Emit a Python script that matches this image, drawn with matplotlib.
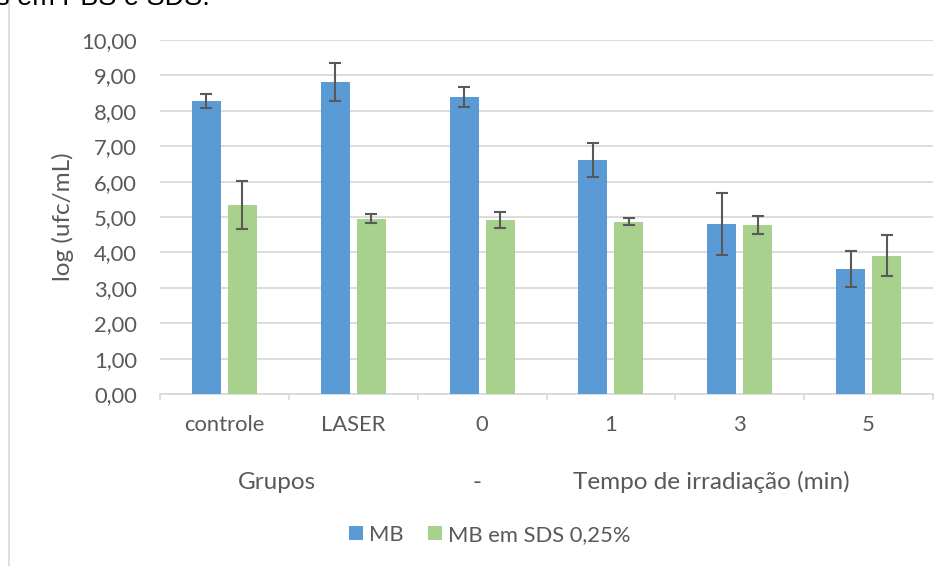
import matplotlib
matplotlib.use("Agg")
import matplotlib.pyplot as plt
from matplotlib.patches import Rectangle
from matplotlib.ticker import FixedLocator, FuncFormatter
import numpy as np

categories = ["controle", "LASER", "0", "1", "3", "5"]
mb_values = [8.28, 8.81, 8.39, 6.60, 4.80, 3.53]
mb_errors = [0.19, 0.53, 0.27, 0.48, 0.88, 0.50]
sds_values = [5.34, 4.95, 4.92, 4.87, 4.77, 3.90]
sds_errors = [0.67, 0.13, 0.22, 0.11, 0.26, 0.58]
series_names = ["MB", "MB em SDS 0,25%"]
group_labels = ["Grupos", "-", "Tempo de irradiação (min)"]
group_label_x = [0.151, 0.410, 0.713]
y_label = "log (ufc/mL)"
top_text = "s em PBS e SDS."

BLUE = "#5B9BD5"
GREEN = "#A9D18E"
GRID = "#D9D9D9"
TXT = "#595959"
ERR = "#595959"
FONT = "Lato"

W, H = 947, 566
fig = plt.figure(figsize=(W / 100, H / 100), dpi=100)
fig.patch.set_facecolor("white")

# chart frame (partially outside the image)
fig.add_artist(Rectangle((9 / W, -0.2), 1.2, 1.2 + (1 - 11 / H),
                         transform=fig.transFigure, fill=False,
                         edgecolor=GRID, linewidth=1.2, zorder=0))
fig.text(-0.004, 1 - 5 / H, top_text, fontsize=19.5, family="Liberation Sans",
         color="black", va="baseline", ha="left")

ax = fig.add_axes([160 / W, 1 - 394 / H, (933 - 160) / W, (394 - 40) / H])
x = np.arange(len(categories))
bw = 0.225
off = 0.14
err_kw = dict(ecolor=ERR, elinewidth=1.5, capsize=4.3, capthick=1.5)
ax.bar(x - off, mb_values, bw, color=BLUE, yerr=mb_errors,
       error_kw=err_kw, label=series_names[0], zorder=3)
ax.bar(x + off, sds_values, bw, color=GREEN, yerr=sds_errors,
       error_kw=err_kw, label=series_names[1], zorder=3)

ax.set_xlim(-0.5, len(categories) - 0.5)
ax.set_ylim(0, 10)
ax.yaxis.set_major_locator(FixedLocator(np.arange(0, 11, 1)))
ax.yaxis.set_major_formatter(FuncFormatter(lambda v, p: f"{v:.2f}".replace(".", ",")))
ax.grid(axis="y", color=GRID, linewidth=1.3, zorder=0)
ax.set_axisbelow(True)

ax.set_xticks(x)
ax.set_xticklabels(categories)
ax.set_xticks(np.arange(-0.5, len(categories), 1), minor=True)
ax.tick_params(axis="x", which="major", length=0, pad=15, labelsize=15.8,
               labelcolor=TXT)
ax.tick_params(axis="x", which="minor", length=4.3, width=1.2, color=GRID,
               direction="out")
ax.tick_params(axis="y", length=0, pad=16.6, labelsize=15.8, labelcolor=TXT)
for lab in ax.get_xticklabels() + ax.get_yticklabels():
    lab.set_family(FONT)

for s in ["top", "right", "left"]:
    ax.spines[s].set_visible(False)
ax.spines["bottom"].set_color(GRID)
ax.spines["bottom"].set_linewidth(1.3)

ax.set_ylabel(y_label, fontsize=17.5, family=FONT, color=TXT, labelpad=5)

for gx, gl in zip(group_label_x, group_labels):
    ax.text(gx, -0.249, gl, transform=ax.transAxes, ha="center", va="center",
            fontsize=17.5, family=FONT, color=TXT)

leg = fig.legend(loc="center", bbox_to_anchor=(490 / W, 1 - 535 / H), ncol=2,
                 frameon=False, prop={"family": FONT, "size": 15.8},
                 handlelength=0.62, handleheight=0.62, handletextpad=0.3,
                 columnspacing=1.1, borderaxespad=0)
for t in leg.get_texts():
    t.set_color(TXT)

fig.savefig("out.png", dpi=100, facecolor="white")
